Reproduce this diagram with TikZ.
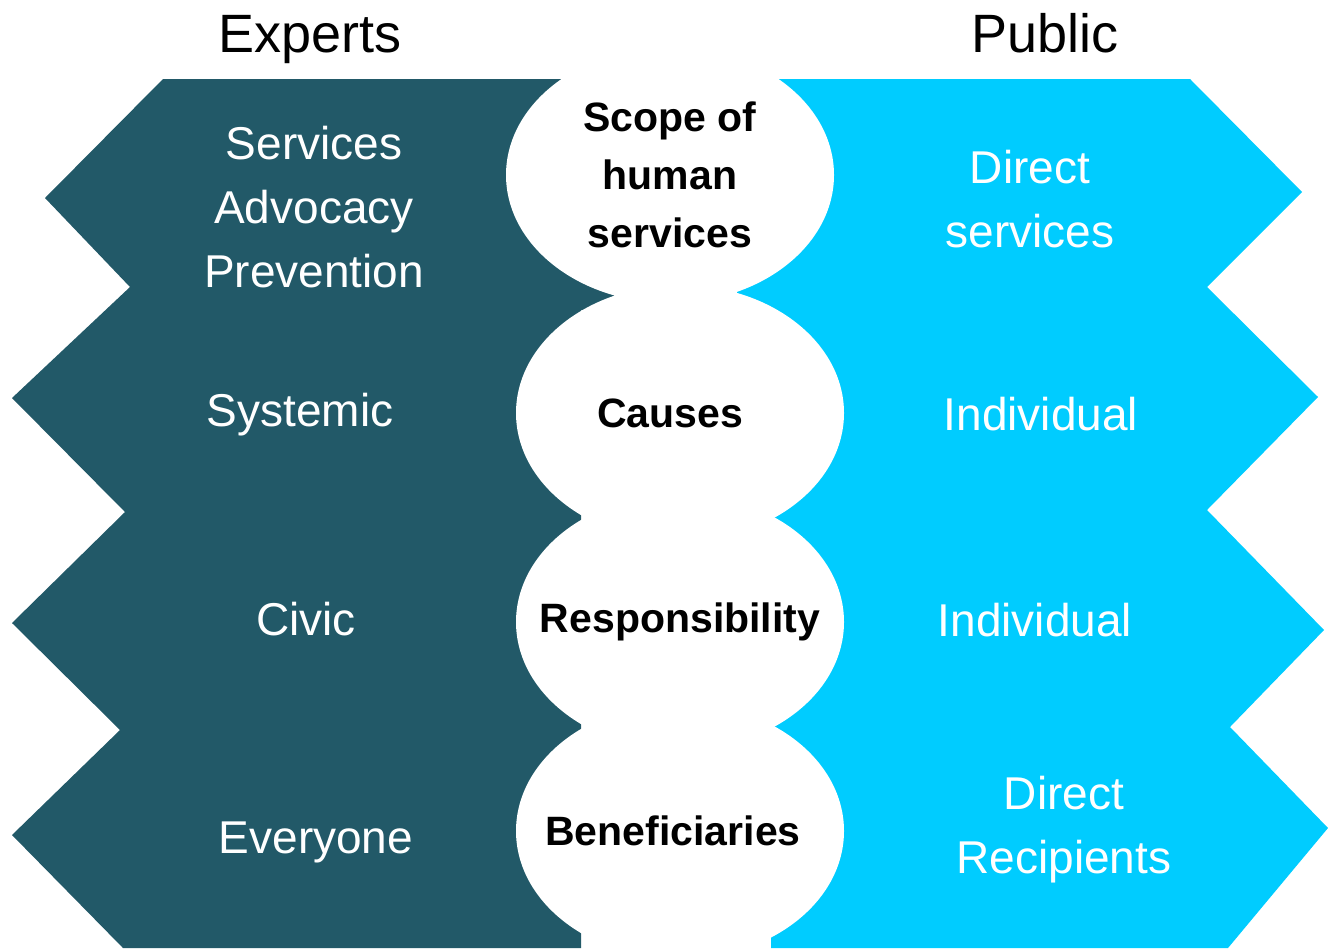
\documentclass[tikz,border=0pt]{standalone}
\usepackage{fontspec}
\setmainfont{Liberation Sans}
\usetikzlibrary{shapes.geometric}
\definecolor{expertteal}{RGB}{34,89,104}
\definecolor{publiccyan}{RGB}{0,204,255}

\begin{document}
\begin{tikzpicture}[x=1pt,y=-1pt,
			head/.style={anchor=base,font=\fontsize{54}{64}\selectfont},
			side/.style={text=white,align=center,font=\fontsize{46}{64}\selectfont},
			topic/.style={ellipse,fill=white,minimum width=328pt,minimum height=256pt,inner xsep=-60pt,inner ysep=0pt,align=center,font=\fontsize{41}{58}\selectfont\bfseries}]
			\useasboundingbox (0,0) rectangle (1328,948);
			% expert side
			\fill[expertteal] (163,79) -- (614,79) -- (614,310) -- (581,310) -- (581,948) -- (123,948)
				-- (12,835) -- (120,730) -- (12,623) -- (125,512) -- (12,398) -- (130,287) -- (45,198) -- cycle;
			% public side
			\fill[publiccyan] (737,79) -- (1190,79) -- (1302,192) -- (1207,287) -- (1318,397) -- (1207,510)
				-- (1324,630) -- (1230,727) -- (1328,828) -- (1228,948) -- (771,948) -- (771,310) -- (737,310) -- cycle;
			\node (experts) [head] at (310,52) {Experts};
			\node (public) [head] at (1045,52) {Public};
			\node (scope) [topic] at (670,175) {Scope of\\human\\services};
			\node (causes) [topic] at (680,413) {Causes\hspace{20pt}};
			\node (resp) [topic] at (680,622) {Responsibility};
			\node (benef) [topic] at (680,831) {Beneficiaries\hspace{14pt}};
			\node (exscope) [side] at (314,207) {Services\\Advocacy\\Prevention};
			\node (excauses) [side] at (300,415) {Systemic};
			\node (exresp) [side] at (306,619) {Civic};
			\node (exbenef) [side] at (316,842) {Everyone};
			\node (puscope) [side] at (1030,199) {Direct\\services};
			\node (pucauses) [side] at (1041,414) {Individual};
			\node (puresp) [side] at (1035,620) {Individual};
			\node (pubenef) [side] at (1064,830) {Direct\\Recipients};
		\end{tikzpicture}
\end{document}
